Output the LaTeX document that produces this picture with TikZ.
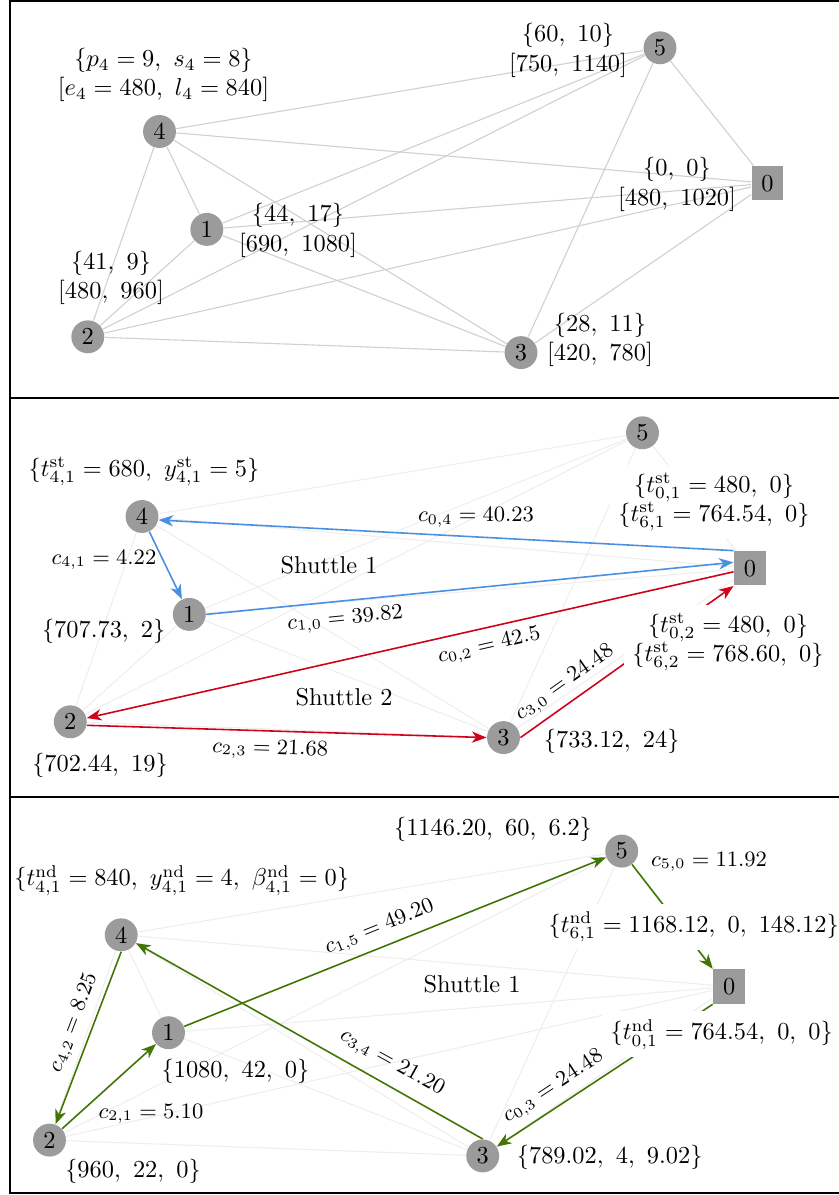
\documentclass[tikz,border=0pt]{standalone}
\usetikzlibrary{arrows.meta}
\definecolor{nodegray}{HTML}{9B9B9B}
\definecolor{eblue}{HTML}{4A90E2}
\definecolor{ered}{HTML}{D0021B}
\definecolor{egreen}{HTML}{417505}
\definecolor{edgeA}{RGB}{208,208,208}
\definecolor{edgeB}{RGB}{238,238,238}
\pgfdeclarelayer{background}
\pgfsetlayers{background,main}
\begin{document}
\begin{tikzpicture}[x=0.41pt,y=-0.41pt,
  cnode/.style={circle,fill=nodegray,minimum size=13.5pt,inner sep=0pt},
  dnode/.style={rectangle,fill=nodegray,minimum width=13.1pt,minimum height=14.1pt,inner sep=0pt},
  lightA/.style={draw=edgeA,line width=0.45pt},
  lightB/.style={draw=edgeB,line width=0.45pt},
  arr/.style={line width=0.65pt,-{Stealth[length=6pt,width=4.6pt,inset=1.8pt]}},
  info/.style={align=center},
  infow/.style={fill=white,align=center},
  clab/.style={font=\small,text=black},
  panel/.style={draw=black,line width=0.8pt}
]
\useasboundingbox (0,0) rectangle (838,1195);

% panels
\draw[panel] (10,1) rectangle (870,398);
\draw[panel] (10,398) rectangle (870,797);
\draw[panel] (10,797) rectangle (870,1193);

% ---------------- top panel ----------------
\node[cnode] (a4) at (159.5,131.5) {4};
\node[cnode] (a1) at (206.8,229.4) {1};
\node[cnode] (a2) at (87.8,336.8) {2};
\node[cnode] (a3) at (521,352.6) {3};
\node[cnode] (a5) at (660,47.8) {5};
\node[dnode] (a0) at (767.5,183.3) {0};
\begin{pgfonlayer}{background}
\foreach \i/\j in {4/5,4/0,4/1,4/3,4/2,1/5,1/0,1/3,1/2,2/5,2/0,2/3,3/5,3/0,5/0}
  \draw[lightA] (a\i) -- (a\j);
\end{pgfonlayer}
\node[info] (ta4) at (163.5,75) {$\{p_4 = 9,\ s_4 = 8\}$\\$[e_4 = 480,\ l_4 = 840]$};
\node[info] (ta1) at (298,230.5) {$\{44,\ 17\}$\\$[690,\ 1080]$};
\node[info] (ta2) at (111,278) {$\{41,\ 9\}$\\$[480,\ 960]$};
\node[info] (ta5) at (568,50.5) {$\{60,\ 10\}$\\$[750,\ 1140]$};
\node[info] (ta0) at (677,184.5) {$\{0,\ 0\}$\\$[480,\ 1020]$};
\node[info] (ta3) at (600,340) {$\{28,\ 11\}$\\$[420,\ 780]$};

% ---------------- middle panel ----------------
\node[cnode] (b4) at (142,516.5) {4};
\node[cnode] (b1) at (189.3,614.4) {1};
\node[cnode] (b2) at (70.3,721.8) {2};
\node[cnode] (b3) at (503.5,737.6) {3};
\node[cnode] (b5) at (642.5,432.8) {5};
\node[dnode] (b0) at (750,568.3) {0};
\begin{pgfonlayer}{background}
\foreach \i/\j in {4/5,4/0,4/1,4/3,4/2,1/5,1/0,1/3,1/2,2/5,2/0,2/3,3/5,3/0,5/0}
  \draw[lightB] (b\i) -- (b\j);
\end{pgfonlayer}
\draw[arr,eblue] (b0.north west) -- (b4.-12);
\draw[arr,eblue] (b4) -- (b1);
\draw[arr,eblue] (b1.east) -- node[clab,pos=0.26,sloped,below] (lb10) {$c_{1,0} = 39.82$} (b0.160);
\draw[arr,ered] (b0.192) -- node[clab,pos=0.384,sloped,below] (lb02) {$c_{0,2} = 42.5$} (b2);
\draw[arr,ered] (b2.-12) -- node[clab,pos=0.46,sloped,below] (lb23) {$c_{2,3} = 21.68$} (b3.west);
\draw[arr,ered] (b3.east) -- node[clab,pos=0.26,sloped,above] (lb30) {$c_{3,0} = 24.48$} (b0.south west);
\node[clab] (lb04) at (476,517.5) {$c_{0,4} = 40.23$};
\node[clab] (lb41) at (104,560) {$c_{4,1} = 4.22$};
\node (sh1) at (329,565) {Shuttle 1};
\node (sh2) at (344,696.7) {Shuttle 2};
\node[info] (tb4) at (144,471.7) {$\{t^{\mathrm{st}}_{4,1} = 680,\ y^{\mathrm{st}}_{4,1} = 5\}$};
\node[info] (tb1) at (103.7,631.7) {$\{707.73,\ 2\}$};
\node[info] (tb2) at (100,765) {$\{702.44,\ 19\}$};
\node[info] (tb3) at (611.7,741.7) {$\{733.12,\ 24\}$};
\node[infow] (tb01) at (714,502) {$\{t^{\mathrm{st}}_{0,1} = 480,\ 0\}$\\$\{t^{\mathrm{st}}_{6,1} = 764.54,\ 0\}$};
\node[infow] (tb02) at (728,641.7) {$\{t^{\mathrm{st}}_{0,2} = 480,\ 0\}$\\$\{t^{\mathrm{st}}_{6,2} = 768.60,\ 0\}$};

% ---------------- bottom panel ----------------
\node[cnode] (c4) at (121.2,934.8) {4};
\node[cnode] (c1) at (168.5,1032.7) {1};
\node[cnode] (c2) at (49.5,1140.1) {2};
\node[cnode] (c3) at (482.7,1155.9) {3};
\node[cnode] (c5) at (621.7,851.1) {5};
\node[dnode] (c0) at (729.2,986.6) {0};
\begin{pgfonlayer}{background}
\foreach \i/\j in {4/5,4/0,4/1,4/3,4/2,1/5,1/0,1/3,1/2,2/5,2/0,2/3,3/5,3/0,5/0}
  \draw[lightB] (c\i) -- (c\j);
\end{pgfonlayer}
\draw[arr,egreen] (c4.south) -- node[clab,pos=0.45,sloped,above] (lc42) {$c_{4,2} = 8.25$} (c2);
\draw[arr,egreen] (c2) -- (c1);
\draw[arr,egreen] (c1) -- node[clab,pos=0.48,sloped,above] (lc15) {$c_{1,5} = 49.20$} (c5);
\draw[arr,egreen] (c5) -- (c0.north west);
\draw[arr,egreen] (c0.south west) -- node[clab,pos=0.69,sloped,above] (lc03) {$c_{0,3} = 24.48$} (c3);
\draw[arr,egreen] (c3.north) -- (c4);
\node[clab,rotate=-29] (lc34) at (392,1063) {$c_{3,4} = 21.20$};
\node[clab] (lc21) at (151,1113.7) {$c_{2,1} = 5.10$};
\node[clab] (lc50) at (709,862) {$c_{5,0} = 11.92$};
\node (sh3) at (472,983.7) {Shuttle 1};
\node[info] (tc4) at (181.7,880.3) {$\{t^{\mathrm{nd}}_{4,1} = 840,\ y^{\mathrm{nd}}_{4,1} = 4,\ \beta^{\mathrm{nd}}_{4,1} = 0\}$};
\node[info] (tc5) at (493,829) {$\{1146.20,\ 60,\ 6.2\}$};
\node[info] (tc1) at (235.5,1071) {$\{1080,\ 42,\ 0\}$};
\node[info] (tc2) at (133,1171) {$\{960,\ 22,\ 0\}$};
\node[info] (tc3) at (609.7,1157) {$\{789.02,\ 4,\ 9.02\}$};
\node[infow] (tc61) at (693.7,927) {$\{t^{\mathrm{nd}}_{6,1} = 1168.12,\ 0,\ 148.12\}$};
\node[infow] (tc01) at (721.7,1034.3) {$\{t^{\mathrm{nd}}_{0,1} = 764.54,\ 0,\ 0\}$};
\end{tikzpicture}
\end{document}
